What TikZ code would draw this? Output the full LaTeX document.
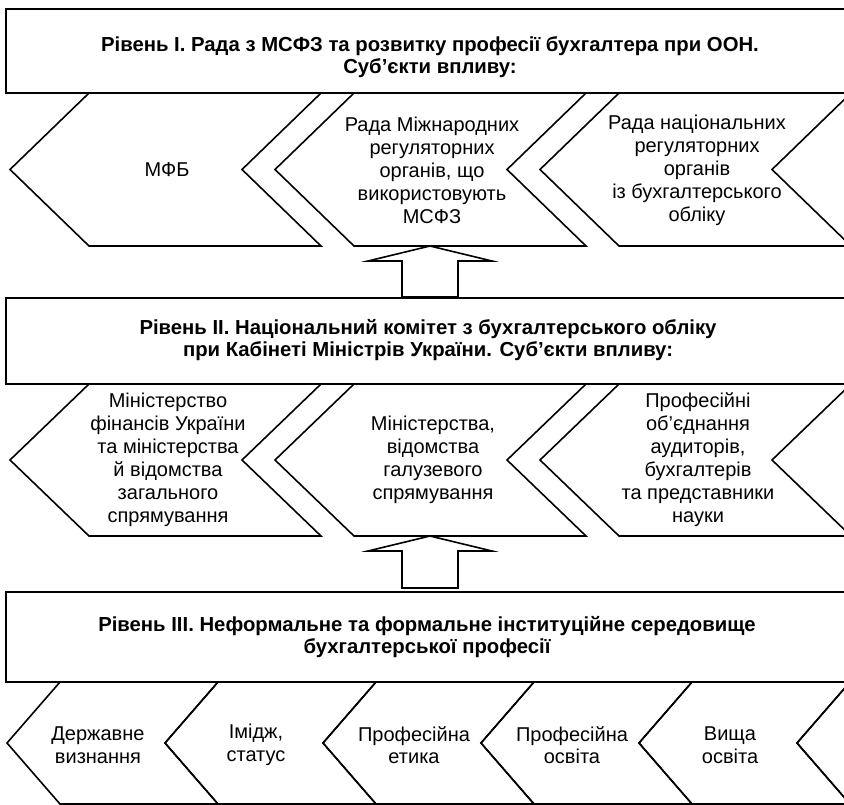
\documentclass[tikz,border=0pt]{standalone}
\usepackage{fontspec}
\setmainfont{Liberation Sans}
\usepackage{tikz}
\usetikzlibrary{calc}
\tikzstyle{level} = [rectangle, minimum width=844pt, draw=black, line width=2pt]
\tikzstyle{title} = [align=center, inner sep=0pt, font=\fontsize{20.3}{22.5}\selectfont\bfseries]
\tikzstyle{chev} = [draw=black, line width=1.6pt, line join=miter]
\tikzstyle{chevtext} = [align=center, inner sep=0pt, font=\fontsize{20}{23}\selectfont]
\tikzstyle{smalltext} = [align=center, inner sep=0pt, font=\fontsize{20}{22.5}\selectfont]
\tikzstyle{uparrow} = [draw=black, line width=1.6pt, fill=white, line join=miter]

\begin{document}
\begin{tikzpicture}[x=1pt, y=-1pt, node distance=265pt]
\clip (0,0) rectangle (844,804);

% Levels
\node (lvl1) [level, minimum height=84pt] at (428,51) {};
\node (lvl2) [level, minimum height=86pt] at (428,341) {};
\node (lvl3) [level, minimum height=90pt] at (428,637) {};
\node (title1) [title] at (430,57) {Рівень I. Рада з МСФЗ та розвитку професії бухгалтера при ООН.\\ Суб’єкти впливу:};
\node (title2) [title] at (428,340) {Рівень II. Національний комітет з бухгалтерського обліку\\ при Кабінеті Міністрів України. Суб’єкти впливу:};
\node (title3) [title] at (427,637) {Рівень III. Неформальне та формальне інституційне середовище\\ бухгалтерської професії};

% Chevrons
\foreach \t in {10,275,540} {
  \draw [chev] (\t,169.5) -- (\t+79,93) -- (\t+311,93) -- (\t+232,169.5) -- (\t+311,246) -- (\t+79,246) -- cycle;
  \draw [chev] (\t,460) -- (\t+79,384) -- (\t+311,384) -- (\t+232,460) -- (\t+311,536) -- (\t+79,536) -- cycle;
}
\foreach \t in {7,165,...,797}
  \draw [chev] (\t,743) -- (\t+53,682) -- (\t+211,682) -- (\t+158,743) -- (\t+211,804) -- (\t+53,804) -- cycle;

% Level I
\node (mfb) [chevtext] at (167,170) {МФБ};
\node (rmro) [chevtext, right of=mfb] {Рада Міжнародних\\ регуляторних\\ органів, що\\ використовують\\ МСФЗ};
\node (rnro) [chevtext, right of=rmro] {Рада національних\\ регуляторних\\ органів\\ із бухгалтерського\\ обліку};

% Level II
\node (minfin) [chevtext] at (168,460) {Міністерство\\ фінансів України\\ та міністерства\\ й відомства\\ загального\\ спрямування};
\node (galuz) [chevtext, right of=minfin] {Міністерства,\\ відомства\\ галузевого\\ спрямування};
\node (prof) [chevtext, right of=galuz] {Професійні\\ об’єднання\\ аудиторів,\\ бухгалтерів\\ та представники\\ науки};

% Level III
\node (derzh) [smalltext] at (98,745) {Державне\\ визнання};
\node (imidzh) [smalltext] at (256,745) {Імідж,\\ статус};
\node (etyka) [smalltext] at (414,745) {Професійна\\ етика};
\node (osvita) [smalltext] at (572,745) {Професійна\\ освіта};
\node (vyshcha) [smalltext] at (730,745) {Вища\\ освіта};

% Arrows
\coordinate (tip1) at (430,246);
\coordinate (tip2) at (430,536);
\draw [uparrow] (tip1) -- ++(-62,15) -- ++(34,0) -- ++(0,36) -- ++(56,0) -- ++(0,-36) -- ++(34,0) -- cycle;
\draw [uparrow] (tip2) -- ++(-62,15) -- ++(34,0) -- ++(0,37) -- ++(56,0) -- ++(0,-37) -- ++(34,0) -- cycle;

\end{tikzpicture}
\end{document}
